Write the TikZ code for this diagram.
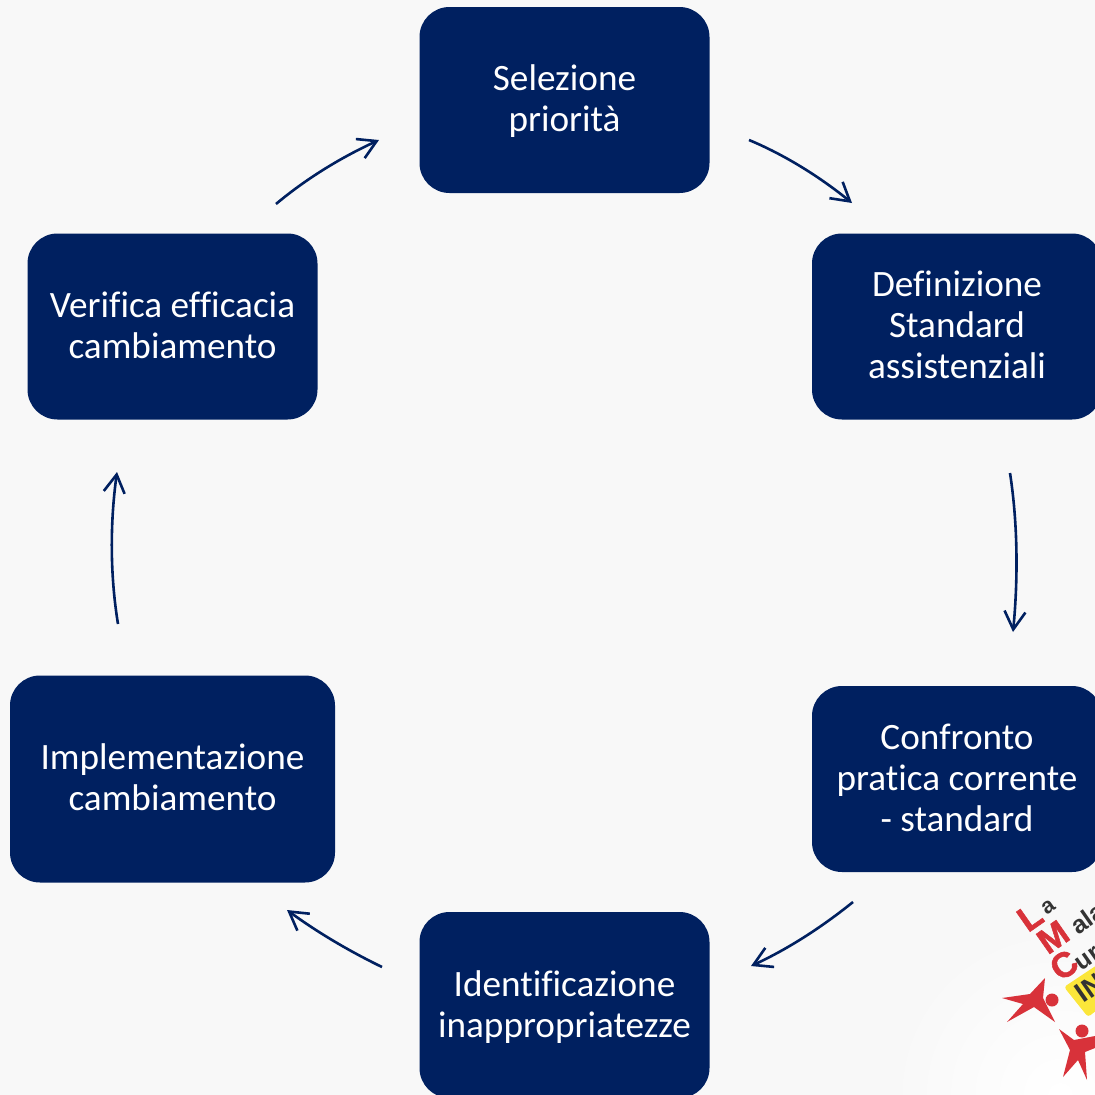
\documentclass[tikz,border=0pt]{standalone}
\usepackage{fontspec}
\setmainfont[Ligatures=NoCommon]{Carlito}
\newfontfamily\logofont[FakeBold=1.5]{Liberation Sans Bold}
\newfontfamily\logofontsm{Liberation Sans Bold}
\usetikzlibrary{arrows.meta}
\definecolor{navy}{HTML}{002060}
\definecolor{bgc}{HTML}{F8F8F8}
\definecolor{logored}{HTML}{D8323A}
\definecolor{logoyellow}{HTML}{FBE63A}
\newcommand{\hstrut}[1]{\rule{0pt}{#1pt}}
\newcommand{\dstrut}{\rule[-10pt]{0pt}{10pt}}
\tikzset{
  stepbox/.style={fill=navy,text=white,rounded corners=30pt,align=center,inner sep=0pt,
    font=\fontsize{37.2pt}{41pt}\selectfont},
  flow/.style={draw=navy,line width=2.6pt,-{Straight Barb[length=18pt,width=21pt,line width=2.6pt]}},
  logobig/.style={inner sep=0pt,text=logored,rotate=35,font=\logofont\fontsize{35pt}{35pt}\selectfont},
  logosmall/.style={inner sep=0pt,text=black!80,rotate=35,anchor=west,font=\logofontsm\fontsize{25pt}{25pt}\selectfont},
}
\begin{document}
\begin{tikzpicture}[x=1pt,y=-1pt]
\useasboundingbox (0,0) rectangle (1095,1095);
\clip (0,0) rectangle (1095,1095);
\fill[bgc] (0,0) rectangle (1095,1095);
\shade[inner color=white,outer color=bgc] (1060,1095) circle (170pt);

\node[stepbox,minimum width=290pt,minimum height=186pt] (sel) at (564.5,100) {\hstrut{32}Selezione\\priorità\dstrut};
\node[stepbox,minimum width=290pt,minimum height=186pt] (def) at (957,326.5) {\hstrut{32}Definizione\\Standard\\assistenziali\dstrut};
\node[stepbox,minimum width=290pt,minimum height=186pt] (con) at (957,779) {\hstrut{32}Confronto\\pratica corrente\\- standard\dstrut};
\node[stepbox,minimum width=290pt,minimum height=186pt] (ide) at (564.5,1005) {\hstrut{34}Identificazione\\inappropriatezze\dstrut};
\node[stepbox,minimum width=325pt,minimum height=207pt] (imp) at (172.5,779) {\hstrut{32}Implementazione\\cambiamento\dstrut};
\node[stepbox,minimum width=290pt,minimum height=186pt] (ver) at (172.5,326.5) {\hstrut{32}Verifica efficacia\\cambiamento\dstrut};

\coordinate (a1s) at (749,140); \coordinate (a1e) at (852,203);
\coordinate (a2s) at (1010,473); \coordinate (a2e) at (1013,632);
\coordinate (a3s) at (853,902); \coordinate (a3e) at (751,966);
\coordinate (a4s) at (382,967); \coordinate (a4e) at (287,910);
\coordinate (a5s) at (118,624); \coordinate (a5e) at (117,472);
\coordinate (a6s) at (276,204); \coordinate (a6e) at (379,140);
\draw[flow] (a1s) .. controls (785,155) and (820,177) .. (a1e);
\draw[flow] (a2s) .. controls (1018,525) and (1018,580) .. (a2e);
\draw[flow] (a3s) .. controls (822,927) and (788,949) .. (a3e);
\draw[flow] (a4s) .. controls (349,951) and (317,932) .. (a4e);
\draw[flow] (a5s) .. controls (110,575) and (110,523) .. (a5e);
\draw[flow] (a6s) .. controls (307,178) and (342,157) .. (a6e);

% logo
\fill[logored] (1002,998) -- (1030,994) -- (1045,978) -- (1043,998) -- (1055,1022) -- (1034,1007) -- (1007,1022) -- (1023,1004) -- cycle;
\fill[logored] (1052,1000) circle (6.5pt);
\fill[logored] (1059,1029) -- (1074,1040) -- (1095,1036) -- (1095,1048) -- (1085,1052) -- (1087,1080) -- (1078,1060) -- (1063,1077) -- (1070,1050) -- cycle;
\fill[logored] (1082,1031) circle (6.5pt);
\fill[logoyellow,rounded corners=3pt] (1064,987) -- (1097,965) -- (1110,1000) -- (1088,1017) -- cycle;
\node[logobig] (lL) at (1030,917) {L};
\node[logosmall,font=\logofontsm\fontsize{22pt}{22pt}\selectfont] (la) at (1043,911) {a};
\node[logobig] (lM) at (1053,937) {M};
\node[logosmall] (lala) at (1073,928) {ala};
\node[logobig] (lC) at (1064,965) {C};
\node[logosmall] (lur) at (1078,966) {ur};
\node[logosmall,font=\logofontsm\fontsize{28pt}{28pt}\selectfont] (lin) at (1078,996) {IN};
\end{tikzpicture}
\end{document}
